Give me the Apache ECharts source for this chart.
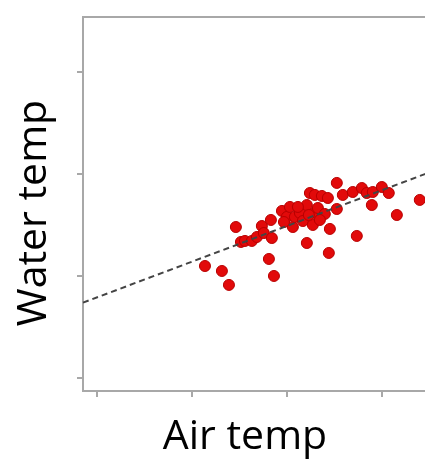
<!DOCTYPE html>
<html>
<head>
<meta charset="utf-8">
<script src="https://cdn.jsdelivr.net/npm/echarts@6/dist/echarts.min.js"></script>
<style>
  html, body { margin: 0; padding: 0; background: #fff; overflow: hidden; width: 425px; height: 461px; }
  #chart { width: 442px; height: 461px; }
</style>
</head>
<body>
<div id="chart"></div>
<script>
// Data (axes are unlabeled; tick positions at 0,10,20,30)
const airTemp = [11.40, 13.18, 13.92, 14.65, 15.18, 15.60, 16.33, 16.86, 17.38, 17.59,
                 18.33, 18.43, 18.12, 18.65, 19.49, 20.01, 20.33, 20.64, 20.85, 21.38,
                 21.69, 22.11, 22.11, 22.43, 22.74, 22.95, 22.95, 23.27, 23.69, 24.00,
                 24.32, 24.42, 24.53, 25.26, 25.26, 25.89, 26.94, 27.36, 27.89, 28.41,
                 28.94, 29.04, 29.99, 30.72, 31.57, 33.98, 21.17, 19.70, 22.32, 23.48];
const waterTemp = [10.95, 10.46, 9.09, 14.78, 13.31, 13.41, 13.41, 13.80, 14.88, 14.19,
                   15.47, 13.70, 11.64, 9.97, 16.36, 15.77, 16.75, 14.78, 15.77, 16.16,
                   15.37, 16.94, 13.21, 18.12, 14.98, 17.93, 16.16, 16.65, 17.83, 16.06,
                   17.63, 12.23, 14.59, 19.11, 16.55, 17.93, 18.22, 13.90, 18.61, 18.12,
                   16.94, 18.22, 18.71, 18.12, 15.96, 17.44, 16.75, 15.27, 15.96, 15.47];
const fitX = [-1.42, 36];
const fitY = [7.35, 20.5];
const xTicks = [0, 10, 20, 30];
const yTicks = [0, 10, 20, 30];
const xTitle = 'Air temp';
const yTitle = 'Water temp';

const points = airTemp.map((x, i) => [x, waterTemp[i]]);
const fitLine = fitX.map((x, i) => [x, fitY[i]]);

const chart = echarts.init(document.getElementById('chart'), null, { renderer: 'canvas' });
const axisColor = '#a8a8a8';
chart.setOption({
  animation: false,
  backgroundColor: '#ffffff',
  grid: {
    left: 83, top: 17, bottom: 70, right: 3,
    show: true, borderColor: axisColor, borderWidth: 2, backgroundColor: 'transparent'
  },
  xAxis: {
    type: 'value', min: -1.42, max: 36,
    axisLine: { show: true, onZero: false, lineStyle: { color: axisColor, width: 2 } },
    axisTick: { show: true, customValues: xTicks, length: 6, inside: false, lineStyle: { color: axisColor, width: 2 } },
    axisLabel: { show: false },
    splitLine: { show: false }
  },
  yAxis: {
    type: 'value', min: -1.33, max: 35.41,
    axisLine: { show: true, onZero: false, lineStyle: { color: axisColor, width: 2 } },
    axisTick: { show: true, customValues: yTicks, length: 6, inside: false, lineStyle: { color: axisColor, width: 2 } },
    axisLabel: { show: false },
    splitLine: { show: false }
  },
  series: [
    {
      type: 'line',
      data: fitLine,
      symbol: 'none',
      lineStyle: { color: '#444444', width: 2, type: [6, 4] },
      z: 3
    },
    {
      type: 'scatter',
      data: points,
      symbol: 'circle',
      symbolSize: 11,
      itemStyle: { color: '#e20a0a', borderColor: '#b80000', borderWidth: 1, opacity: 1 },
      z: 2
    }
  ],
  graphic: [
    {
      type: 'text', x: 245, y: 437,
      style: { text: xTitle, font: '41px "Open Sans"', fill: '#000', textAlign: 'center', textVerticalAlign: 'middle' }
    },
    {
      type: 'text', x: 34, y: 213, rotation: Math.PI / 2,
      style: { text: yTitle, font: '41px "Open Sans"', fill: '#000', textAlign: 'center', textVerticalAlign: 'middle' }
    }
  ]
});
</script>
</body>
</html>
